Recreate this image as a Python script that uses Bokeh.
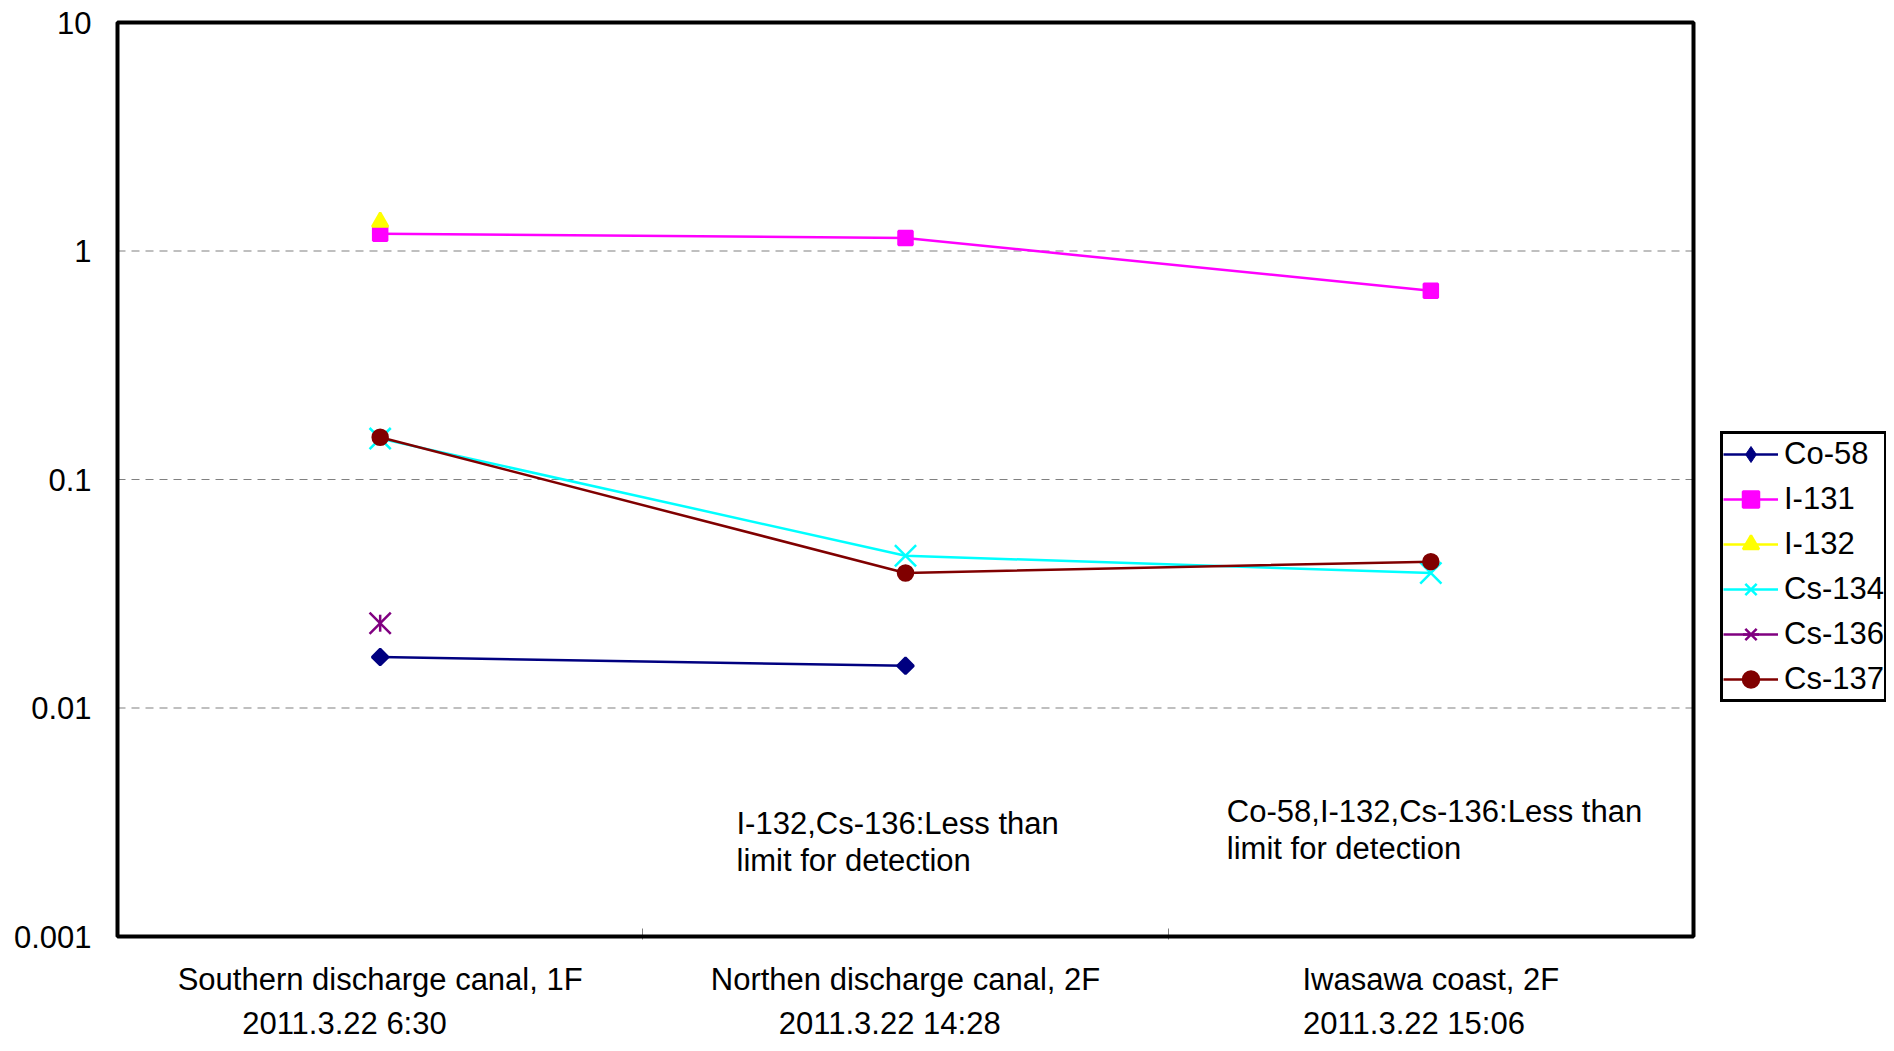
import math
import numpy as np
from bokeh.plotting import figure
from bokeh.models import FixedTicker, Label, Legend, LegendItem, LinearAxis, BoxAnnotation
from bokeh.embed import file_html
from bokeh.resources import INLINE

# ---- data ----
categories = ["Southern discharge canal, 1F", "Northen discharge canal, 2F", "Iwasawa coast, 2F"]
dates = ["2011.3.22 6:30", "2011.3.22 14:28", "2011.3.22 15:06"]
nuclides = ["Co-58", "I-131", "I-132", "Cs-134", "Cs-136", "Cs-137"]
co58 = [0.0167, 0.0153, np.nan]
i131 = [1.19, 1.14, 0.67]
i132 = [1.34, np.nan, np.nan]
cs134 = [0.151, 0.0464, 0.039]
cs136 = [0.0235, np.nan, np.nan]
cs137 = [0.153, 0.039, 0.0437]
y_ticks = [0.001, 0.01, 0.1, 1, 10]
y_tick_labels = ["0.001", "0.01", "0.1", "1", "10"]
notes = ["I-132,Cs-136:Less than\nlimit for detection",
         "Co-58,I-132,Cs-136:Less than\nlimit for detection"]

series = [co58, i131, i132, cs134, cs136, cs137]
colors = ["#000080", "#FF00FF", "#FFFF00", "#00FFFF", "#800080", "#800000"]
# marker parts drawn on the plot: (marker, size, angle)
marker_parts = [
    [("square", 11.5, math.pi / 4)],
    [("square", 14, 0)],
    [("triangle", 16, 0)],
    [("x", 30, 0)],
    [("x", 30, 0), ("dash", 17, math.pi / 2)],
    [("circle", 15, 0)],
]
# marker shown in the legend when it differs from the plotted one
legend_marker = ["diamond", None, None, None, None, None]

FONT = "Liberation Sans"
FS = "31px"

# ---- layout constants (pixels) ----
CANVAS_W, CANVAS_H = 1886, 1043
BOX_LEFT, BOX_TOP, BOX_RIGHT, BOX_BOTTOM = 117, 22, 1693, 936
PAD = 3
n = len(categories)
px_per_x = (BOX_RIGHT - BOX_LEFT) / n
decades = math.log10(y_ticks[-1] / y_ticks[0])
px_per_dec = (BOX_BOTTOM - BOX_TOP) / decades

x_range = (-PAD / px_per_x, n + (CANVAS_W - BOX_RIGHT) / px_per_x)
y_range = (y_ticks[0] * 10 ** (-PAD / px_per_dec), y_ticks[-1] * 10 ** (PAD / px_per_dec))

xs = [i + 0.5 for i in range(n)]

p = figure(width=CANVAS_W, height=CANVAS_H, title=None, y_axis_type="log",
           x_range=x_range, y_range=y_range,
           output_backend="svg", toolbar_location=None,
           min_border_left=BOX_LEFT - PAD, min_border_top=BOX_TOP - PAD,
           min_border_right=0, min_border_bottom=CANVAS_H - BOX_BOTTOM - PAD)
p.background_fill_color = "white"
p.border_fill_color = "white"
p.outline_line_color = None

# y axis
p.yaxis.ticker = FixedTicker(ticks=y_ticks)
p.yaxis.major_label_overrides = {t: l for t, l in zip(y_ticks, y_tick_labels)}
p.yaxis.axis_line_color = None
p.yaxis.major_tick_in = 0
p.yaxis.major_tick_out = 0
p.yaxis.minor_tick_line_color = None
p.yaxis.major_label_standoff = 23
p.yaxis.major_label_text_font = FONT
p.yaxis.major_label_text_font_size = FS
p.yaxis.major_label_text_color = "black"

# x axis (category names), boundary ticks pointing inwards
p.xaxis.ticker = FixedTicker(ticks=xs, minor_ticks=list(range(1, n)))
p.xaxis.major_label_overrides = {x: c for x, c in zip(xs, categories)}
p.xaxis.axis_line_color = None
p.xaxis.major_tick_in = 0
p.xaxis.major_tick_out = 0
p.xaxis.minor_tick_in = 11
p.xaxis.minor_tick_out = 0
p.xaxis.minor_tick_line_color = "#808080"
p.xaxis.minor_tick_line_width = 1
p.xaxis.major_label_standoff = 22
p.xaxis.major_label_text_font = FONT
p.xaxis.major_label_text_font_size = FS
p.xaxis.major_label_text_color = "black"

# second x axis (dates), slightly shifted left as in the original
date_shift = [-0.068, -0.03, -0.032]
date_x = [x + s for x, s in zip(xs, date_shift)]
ax2 = LinearAxis(ticker=FixedTicker(ticks=date_x),
                 major_label_overrides={x: d for x, d in zip(date_x, dates)},
                 axis_line_color=None, major_tick_in=0, major_tick_out=0,
                 minor_tick_line_color=None, major_label_standoff=6,
                 major_label_text_font=FONT, major_label_text_font_size=FS,
                 major_label_text_color="black")
p.add_layout(ax2, "below")

# grid: dashed lines across the plot box only
p.xgrid.visible = False
p.ygrid.visible = False
inner = y_ticks[1:-1]
p.segment(x0=[0] * len(inner), x1=[n] * len(inner), y0=inner, y1=inner,
          line_color="#808080", line_dash="8 6", line_width=1.2)

# plot box
p.add_layout(BoxAnnotation(left=0, right=n, bottom=y_ticks[0], top=y_ticks[-1],
                           fill_alpha=0, line_color="black", line_width=4, line_alpha=1))

items = []
for name, vals, c, parts, lm in zip(nuclides, series, colors, marker_parts, legend_marker):
    line_r = p.line(xs, vals, line_color=c, line_width=2.5)
    mark_rs = [p.scatter(xs, vals, marker=m, size=s, angle=a,
                         fill_color=c, line_color=c, line_width=2.5)
               for m, s, a in parts]
    if lm is not None:
        # legend-only glyph (a single missing value, so nothing is drawn on the plot)
        proxy = p.scatter(x=[np.nan], y=[np.nan], marker=lm, size=14,
                          fill_color=c, line_color=c, line_width=1)
        items.append(LegendItem(label=name, renderers=[line_r, proxy]))
    else:
        items.append(LegendItem(label=name, renderers=[line_r] + mark_rs))

legend = Legend(items=items, location=(1720 - (BOX_LEFT - PAD), (BOX_BOTTOM + PAD) - 702),
                margin=0, padding=0, spacing=5,
                glyph_width=55, glyph_height=40, label_height=40, label_standoff=6,
                label_text_font=FONT, label_text_font_size=FS, label_text_color="black",
                border_line_color="black", border_line_width=3, border_line_alpha=1.0,
                background_fill_color="white", background_fill_alpha=1.0)
p.add_layout(legend)

# notes
note_x = [xs[1], xs[2]]
note_dx = [-169, -204]
note_dy = [131, 143]
for x, t, dx, dy in zip(note_x, notes, note_dx, note_dy):
    p.add_layout(Label(x=x, y=y_ticks[0], x_offset=dx, y_offset=dy, text=t,
                       text_align="left", text_baseline="top", text_line_height=1.07,
                       text_font=FONT, text_font_size=FS, text_color="black"))

open("out.html", "w").write(file_html(p, INLINE))
